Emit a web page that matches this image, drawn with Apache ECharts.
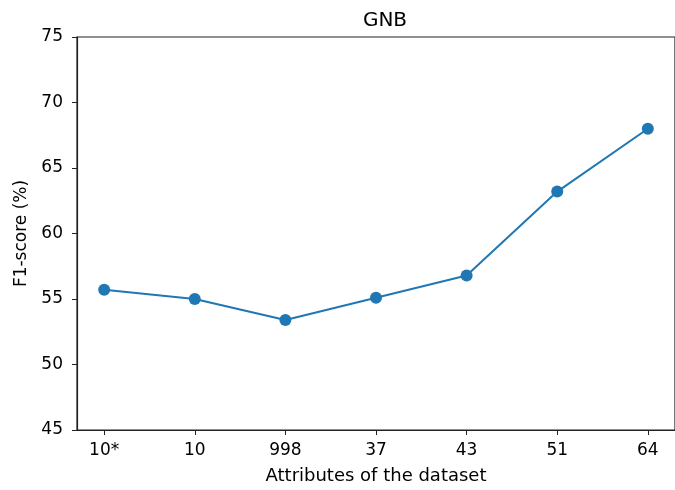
<!DOCTYPE html>
<html><head><meta charset="utf-8">
<script src="https://cdn.jsdelivr.net/npm/echarts@6/dist/echarts.min.js"></script>
<style>html,body{margin:0;padding:0;background:#fff}#c{width:675px;height:490px}</style>
</head><body><div id="c"></div>
<script>
const categories = ['10*', '10', '998', '37', '43', '51', '64'];
const f1Scores = [55.7, 55.0, 53.4, 55.1, 56.8, 63.2, 68.0];
const yTicks = [45, 50, 55, 60, 65, 70, 75];

const font = 'DejaVu Sans';
const chart = echarts.init(document.getElementById('c'), null, {renderer: 'canvas'});
const idx = categories.map((_, i) => i);
chart.setOption({
  animation: false,
  title: {text: 'GNB', left: 380, top: 6, textAlign: 'center',
    textStyle: {fontFamily: font, fontSize: 20, fontWeight: 'normal', color: '#000'}},
  grid: {left: 77, top: 37, width: 608, height: 396, show: true, borderColor: '#222', borderWidth: 1.2, containLabel: false},
  xAxis: {
    type: 'value', min: -0.3, max: 6.3,
    name: 'Attributes of the dataset', nameLocation: 'middle', nameGap: 37,
    nameTextStyle: {fontFamily: font, fontSize: 18, color: '#000'},
    axisLine: {show: true, onZero: false, lineStyle: {color: '#222', width: 1.2}},
    axisTick: {show: true, customValues: idx, length: 5, inside: false, lineStyle: {color: '#222'}},
    axisLabel: {customValues: idx, fontFamily: font, fontSize: 17, color: '#000', margin: 12,
      formatter: v => categories[Math.round(v)]},
    splitLine: {show: false}
  },
  yAxis: {
    type: 'value', min: 45, max: 75, interval: 5,
    name: 'F1-score (%)', nameLocation: 'middle', nameGap: 45,
    nameTextStyle: {fontFamily: font, fontSize: 17, color: '#000'},
    axisLine: {show: true, onZero: false, lineStyle: {color: '#222', width: 1.2}},
    axisTick: {show: true, length: 5, lineStyle: {color: '#222'}},
    axisLabel: {fontFamily: font, fontSize: 17, color: '#000', margin: 14,
      formatter: v => yTicks.includes(v) ? String(v) : ''},
    splitLine: {show: false}
  },
  series: [{
    type: 'line',
    data: f1Scores.map((v, i) => [i, v]),
    symbol: 'circle', symbolSize: 12,
    lineStyle: {color: '#1f77b4', width: 2},
    itemStyle: {color: '#1f77b4'},
    clip: false
  }]
});
</script></body></html>
